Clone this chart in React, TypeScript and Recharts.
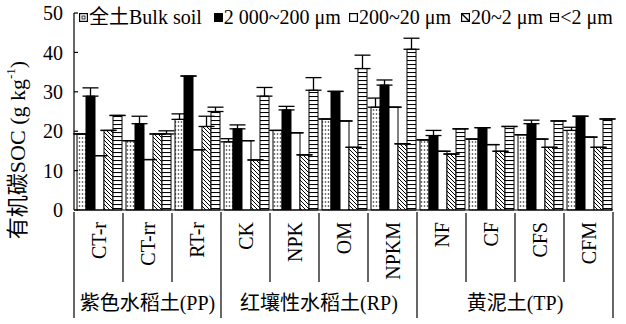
import React from 'react';
import { BarChart, Bar, XAxis, YAxis, ErrorBar } from 'recharts';

// treatments on the x axis, and the soil type groups they belong to
const categories = ['CT-r', 'CT-rr', 'RT-r', 'CK', 'NPK', 'OM', 'NPKM', 'NF', 'CF', 'CFS', 'CFM'];
const groupNames = ['紫色水稻土(PP)', '红壤性水稻土(RP)', '黄泥土(TP)'];
const groupSizes = [3, 4, 4];

// SOC (g/kg) by fraction
const bulkSoil = [19.3, 17.6, 23.0, 17.3, 20.2, 23.1, 26.1, 17.8, 18.0, 19.1, 20.2];
const macro = [28.9, 21.9, 34.0, 20.6, 25.4, 30.1, 31.7, 18.9, 20.9, 21.9, 23.8];
const coarse = [13.8, 12.8, 15.3, 17.6, 19.6, 22.6, 26.1, 14.9, 16.6, 18.0, 18.5];
const fine = [20.2, 19.3, 21.2, 12.7, 14.0, 15.9, 16.8, 14.2, 14.9, 15.9, 15.9];
const clay = [24.0, 19.3, 25.0, 28.9, 30.4, 35.9, 40.8, 20.6, 21.2, 22.6, 23.1];

// upper error bars (0 = none drawn)
const bulkErr = [0, 0, 1.4, 0.8, 0, 0, 2.3, 0, 0, 0, 0.8];
const macroErr = [2.1, 1.9, 0, 1.0, 0.9, 0, 1.3, 1.3, 0, 0.9, 0];
const coarseErr = [0, 0, 0, 0, 0, 0, 0, 0, 0, 0, 0];
const fineErr = [0, 0, 2.6, 0, 0, 0, 0, 0, 0, 0, 0];
const clayErr = [0, 0.8, 1.1, 2.2, 3.2, 3.4, 2.8, 0, 0, 0, 0];

const yTicks = [0, 10, 20, 30, 40, 50];
const seriesNames = ['全土Bulk soil', '2 000~200 μm', '200~20 μm', '20~2 μm', '<2 μm'];

const FONT = "'Liberation Serif', 'Noto Sans CJK SC', serif";

const series = [
  { key: 'bulk', fill: 'url(#dots)', values: bulkSoil, err: bulkErr },
  { key: 'macro', fill: '#000', values: macro, err: macroErr },
  { key: 'coarse', fill: '#fff', values: coarse, err: coarseErr },
  { key: 'fine', fill: 'url(#hatch)', values: fine, err: fineErr },
  { key: 'clay', fill: 'url(#rungs)', values: clay, err: clayErr },
];

const data = categories.map((name, i) => {
  const row: any = { name, idx: i };
  series.forEach(s => {
    row[s.key] = s.values[i];
    row[s.key + 'Err'] = [0, s.err[i]];
  });
  return row;
});

// group boundaries and centres in category units
const bounds = groupSizes.reduce<number[]>((acc, n) => [...acc, acc[acc.length - 1] + n], [0]);
const groupCenters = groupSizes.map((n, i) => bounds[i] + n / 2);
const innerSeps = categories.map((_, i) => i).filter(i => i > 0 && !bounds.includes(i));

const CategoryTick = (props: any) => {
  const { x, y, payload } = props;
  return (
    <text
      transform={`translate(${x},${y}) rotate(-90)`}
      textAnchor="end"
      dominantBaseline="central"
      fontSize={20}
      fontFamily={FONT}
      fill="#000"
    >
      {payload.value}
    </text>
  );
};

const GroupTick = (props: any) => {
  const { x, y, payload } = props;
  const i = groupCenters.indexOf(payload.value);
  return (
    <text x={x} y={y + 99} textAnchor="middle" fontSize={20} fontFamily={FONT} fill="#000">
      {groupNames[i]}
    </text>
  );
};

const NoTick = () => null;

const LegendIcon = ({ kind }: { kind: number }) => (
  <svg width={9} height={9} style={{ display: 'block', marginRight: 1 }}>
    <rect x={0.6} y={0.6} width={7.8} height={7.8} fill={kind === 1 ? '#000' : '#fff'} stroke="#000" strokeWidth={1.2} />
    {kind === 0 && <rect x={3} y={3} width={3} height={3} fill="none" stroke="#000" strokeWidth={0.8} />}
    {kind === 3 && <line x1={1} y1={1} x2={8} y2={8} stroke="#000" strokeWidth={1.4} />}
    {kind === 4 && <line x1={1} y1={4.5} x2={8} y2={4.5} stroke="#000" strokeWidth={1} />}
  </svg>
);

const gaps = [12, 8, 10, 7, 0];

export default function App() {
  return (
    <div style={{ position: 'absolute', left: 0, top: 0, width: 626, height: 324, background: '#fff' }}>
      <BarChart
        width={626}
        height={324}
        data={data}
        margin={{ top: 13, right: 13, left: 73, bottom: 110 }}
        barCategoryGap={3}
        barGap={0}
      >
        <defs>
          <pattern id="dots" width={3} height={4} patternUnits="userSpaceOnUse">
            <rect width={3} height={4} fill="#fff" />
            <circle cx={1.5} cy={2} r={0.8} fill="#222" />
          </pattern>
          <pattern id="hatch" width={4} height={4} patternUnits="userSpaceOnUse">
            <rect width={4} height={4} fill="#fff" />
            <path d="M-1,-1 L5,5 M-1,3 L1,5 M3,-1 L5,1" stroke="#000" strokeWidth={1} />
          </pattern>
          <pattern id="rungs" width={4} height={4} patternUnits="userSpaceOnUse">
            <rect width={4} height={4} fill="#fff" />
            <line x1={0} y1={0.5} x2={4} y2={0.5} stroke="#000" strokeWidth={1.1} />
          </pattern>
        </defs>
        <text
          transform="translate(17,150) rotate(-90)"
          textAnchor="middle"
          dominantBaseline="central"
          fontSize={22}
          fontFamily={FONT}
          fill="#000"
        >
          有机碳SOC (g kg<tspan dy={-7} fontSize={13}>-1</tspan><tspan dy={7}>)</tspan>
        </text>
        <YAxis
          domain={[0, 50]}
          ticks={yTicks}
          width={1}
          tickSize={-4}
          tickMargin={15}
          interval={0}
          axisLine={{ stroke: '#000', strokeWidth: 1.2 }}
          tickLine={{ stroke: '#000', strokeWidth: 1.2 }}
          tick={{ fill: '#000', fontSize: 20, fontFamily: FONT }}
        />
        <XAxis
          dataKey="name"
          height={1}
          interval={0}
          tickSize={0}
          tickMargin={12}
          tickLine={false}
          axisLine={{ stroke: '#000', strokeWidth: 1.2 }}
          tick={CategoryTick}
        />
        <XAxis
          xAxisId="sep"
          type="number"
          dataKey="idx"
          domain={[0, categories.length]}
          ticks={innerSeps}
          interval={0}
          height={1}
          tickSize={69}
          axisLine={false}
          tickLine={{ stroke: '#000', strokeWidth: 1.2 }}
          tick={NoTick}
        />
        <XAxis
          xAxisId="grpsep"
          type="number"
          dataKey="idx"
          domain={[0, categories.length]}
          ticks={bounds}
          interval={0}
          height={1}
          tickSize={106}
          axisLine={false}
          tickLine={{ stroke: '#000', strokeWidth: 1.2 }}
          tick={NoTick}
        />
        <XAxis
          xAxisId="grp"
          type="number"
          dataKey="idx"
          domain={[0, categories.length]}
          ticks={groupCenters}
          interval={0}
          height={1}
          tickSize={0}
          tickMargin={0}
          axisLine={false}
          tickLine={false}
          tick={GroupTick}
        />
        {series.map((s, i) => (
          <Bar
            key={s.key}
            dataKey={s.key}
            name={seriesNames[i]}
            fill={s.fill}
            stroke="#000"
            strokeWidth={1}
            isAnimationActive={false}
          >
            <ErrorBar dataKey={s.key + 'Err'} width={8} stroke="#000" strokeWidth={1.3} direction="y" isAnimationActive={false} />
          </Bar>
        ))}
      </BarChart>
      <div
        style={{
          position: 'absolute',
          left: 79,
          top: 5,
          display: 'flex',
          alignItems: 'center',
          fontFamily: FONT,
          fontSize: 20,
          lineHeight: '24px',
          color: '#000',
          whiteSpace: 'pre',
        }}
      >
        {seriesNames.map((n, i) => (
          <div key={n} style={{ display: 'flex', alignItems: 'center', marginRight: gaps[i] }}>
            <LegendIcon kind={i} />
            <span>{n}</span>
          </div>
        ))}
      </div>
    </div>
  );
}
